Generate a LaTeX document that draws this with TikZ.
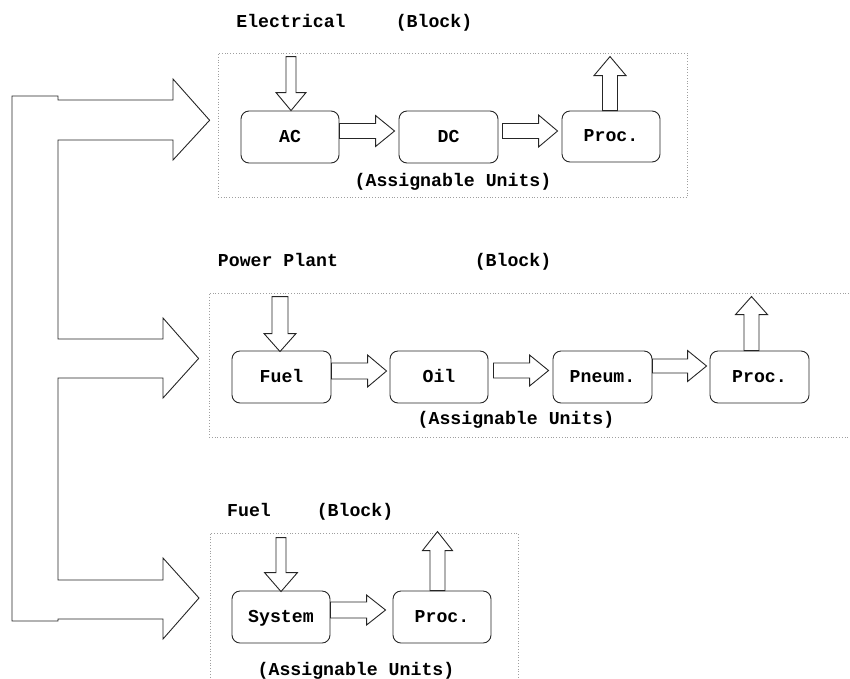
\documentclass[tikz,border=0pt]{standalone}
\usepackage{fontspec}
\setmonofont{Liberation Mono}
\usetikzlibrary{calc}

\newcommand\labelfont{\ttfamily\bfseries\fontsize{18.2}{22}\selectfont}

\tikzset{
  unitbox/.style={draw=black!85, line width=0.9pt, rounded corners=8pt,
    minimum width=98pt, minimum height=52pt, inner sep=0pt,
    text height=10pt, text depth=0pt, font=\labelfont},
  blockframe/.style={draw=gray!75, dotted, line width=0.8pt, inner sep=0pt},
  fat/.style={draw=black!85, line width=0.9pt, line join=miter},
  lbl/.style={font=\labelfont, inner sep=0pt, anchor=base},
}

% block arrow pointing right: #1 shaft start (centre), #2 tip,
% #3 shaft half width, #4 head half width, #5 head length
\newcommand\rightblock[5]{%
  \path #1 coordinate (br1) #2 coordinate (br2);
  \path (br2|-br1) coordinate (br3);
  \draw[fat] ($(br1)+(0,-#3)$) -- ($(br3)+(-#5,-#3)$) -- ($(br3)+(-#5,-#4)$)
    -- (br3) -- ($(br3)+(-#5,#4)$) -- ($(br3)+(-#5,#3)$) -- ($(br1)+(0,#3)$) -- cycle;
}
% block arrow pointing down
\newcommand\downblock[5]{%
  \path #1 coordinate (bd1) #2 coordinate (bd2);
  \path (bd1|-bd2) coordinate (bd3);
  \draw[fat] ($(bd1)+(-#3,0)$) -- ($(bd3)+(-#3,-#5)$) -- ($(bd3)+(-#4,-#5)$)
    -- (bd3) -- ($(bd3)+(#4,-#5)$) -- ($(bd3)+(#3,-#5)$) -- ($(bd1)+(#3,0)$) -- cycle;
}
% block arrow pointing up
\newcommand\upblock[5]{%
  \path #1 coordinate (bu1) #2 coordinate (bu2);
  \path (bu1|-bu2) coordinate (bu3);
  \draw[fat] ($(bu1)+(-#3,0)$) -- ($(bu3)+(-#3,#5)$) -- ($(bu3)+(-#4,#5)$)
    -- (bu3) -- ($(bu3)+(#4,#5)$) -- ($(bu3)+(#3,#5)$) -- ($(bu1)+(#3,0)$) -- cycle;
}

\begin{document}
\begin{tikzpicture}[x=1pt,y=-1pt]
\useasboundingbox (0,0) rectangle (850,678);

% ---------- block frames ----------
\node[blockframe, minimum width=469pt, minimum height=144.5pt] (blkElec) at (452.5,125.25) {};
\node[blockframe, minimum width=661pt, minimum height=144pt] (blkPower) at (539.5,365) {};
\node[blockframe, minimum width=308pt, minimum height=170pt] (blkFuel) at (364,618) {};

% ---------- titles ----------
\node[lbl] (tElec) at (291,27) {Electrical};
\node[lbl] (tElecB) at (434,27) {(Block)};
\node[lbl] (tPower) at (278,266) {Power Plant};
\node[lbl] (tPowerB) at (513,266) {(Block)};
\node[lbl] (tFuel) at (249,516) {Fuel};
\node[lbl] (tFuelB) at (355,516) {(Block)};

\node[lbl] (aElec) at (453,186) {(Assignable Units)};
\node[lbl] (aPower) at (516,424) {(Assignable Units)};
\node[lbl] (aFuel) at (356,675) {(Assignable Units)};

% ---------- electrical units ----------
\node[unitbox] (uAC) at (290,137) {AC};
\node[unitbox, minimum width=99pt] (uDC) at (448.5,137) {DC};
\node[unitbox, minimum height=51pt] (uProcE) at (611,136.5) {Proc.};

\downblock{($(uAC.north)+(1,-54)$)}{(uAC.north)}{5}{15}{18}
\rightblock{($(uAC.east)+(0,-6)$)}{($(uDC.west)+(-4,-6)$)}{7.5}{15.5}{19}
\rightblock{($(uDC.east)+(4,-6)$)}{($(uProcE.west)+(-4,-5.5)$)}{7.5}{16}{19}
\upblock{($(uProcE.north)+(-1,0)$)}{($(uProcE.north)+(-1,-54)$)}{7.5}{16}{19}

% ---------- power plant units ----------
\node[unitbox, minimum width=99pt] (uFuel) at (281.5,377) {Fuel};
\node[unitbox] (uOil) at (439,377) {Oil};
\node[unitbox, minimum width=99pt] (uPneum) at (602.5,377) {Pneum.};
\node[unitbox, minimum width=99pt] (uProcP) at (759.5,377) {Proc.};

\downblock{($(uFuel.north)+(-1.5,-54)$)}{($(uFuel.north)+(-1.5,1)$)}{8}{16}{18}
\rightblock{($(uFuel.east)+(0,-6)$)}{($(uOil.west)+(-3,-6)$)}{8}{16}{19}
\rightblock{($(uOil.east)+(5,-6.5)$)}{($(uPneum.west)+(-4,-6.5)$)}{7.5}{15.5}{19}
\rightblock{($(uPneum.east)+(0,-11)$)}{($(uProcP.west)+(-3,-11)$)}{7}{15.5}{19}
\upblock{($(uProcP.north)+(-8,0)$)}{($(uProcP.north)+(-8,-54)$)}{7.5}{16}{18}

% ---------- fuel units ----------
\node[unitbox] (uSys) at (281,617) {System};
\node[unitbox] (uProcF) at (442,617) {Proc.};

\downblock{($(uSys.north)+(0,-53)$)}{($(uSys.north)+(0,1)$)}{5}{16.5}{19}
\rightblock{($(uSys.east)+(0,-7)$)}{($(uProcF.west)+(-7,-6)$)}{8}{15}{19}
\upblock{($(uProcF.north)+(-4.5,0)$)}{($(uProcF.north)+(-4.5,-59)$)}{7.5}{15}{19}

% ---------- feeder from the common trunk to the three blocks ----------
\coordinate (tipE) at ($(blkElec.west)+(-8,-5)$);
\coordinate (tipP) at ($(blkPower.west)+(-10,-6.5)$);
\coordinate (tipF) at (199,598);
\draw[fat]
  (58,100) -- (173,100) -- (173,79) -- (tipE) -- (173,160) -- (173,140)
  -- (58,140) -- (58,339) -- (163,339) -- (163,318) -- (tipP) -- (163,398)
  -- (163,378) -- (58,378) -- (58,580) -- (163,580) -- (163,558) -- (tipF)
  -- (163,639) -- (163,619) -- (58,619) -- (58,621) -- (12,621) -- (12,96)
  -- (58,96) -- cycle;

\end{tikzpicture}
\end{document}
